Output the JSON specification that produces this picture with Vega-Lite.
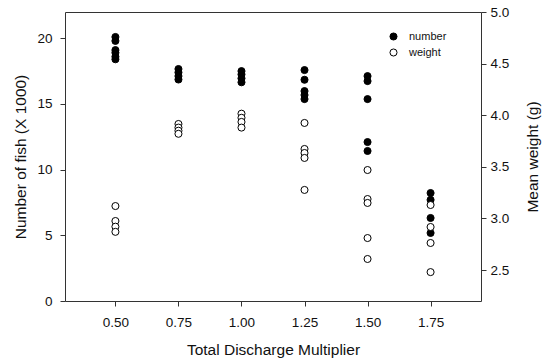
{
  "$schema": "https://vega.github.io/schema/vega-lite/v6.json",
  "width": 416,
  "height": 289,
  "autosize": {"type": "none"},
  "padding": {"left": 65, "top": 12, "right": 68, "bottom": 61},
  "background": "white",
  "config": {
    "font": "Liberation Sans",
    "view": {"stroke": "#333", "strokeWidth": 1},
    "axis": {
      "grid": false,
      "domain": false,
      "tickColor": "#333",
      "tickSize": 5,
      "labelFontSize": 13.5,
      "labelColor": "#111",
      "titleFontSize": 15.5,
      "titleFontWeight": "normal",
      "titleColor": "#111"
    }
  },
  "data": {
    "values": [
      {"x": 0.5, "series": "number", "value": 20.1},
      {"x": 0.5, "series": "number", "value": 19.8},
      {"x": 0.5, "series": "number", "value": 19.1},
      {"x": 0.5, "series": "number", "value": 18.9},
      {"x": 0.5, "series": "number", "value": 18.6},
      {"x": 0.5, "series": "number", "value": 18.4},
      {"x": 0.75, "series": "number", "value": 17.66},
      {"x": 0.75, "series": "number", "value": 17.4},
      {"x": 0.75, "series": "number", "value": 17.12},
      {"x": 0.75, "series": "number", "value": 16.86},
      {"x": 1.0, "series": "number", "value": 17.5},
      {"x": 1.0, "series": "number", "value": 17.25},
      {"x": 1.0, "series": "number", "value": 16.95},
      {"x": 1.0, "series": "number", "value": 16.65},
      {"x": 1.25, "series": "number", "value": 17.58},
      {"x": 1.25, "series": "number", "value": 16.84},
      {"x": 1.25, "series": "number", "value": 15.98},
      {"x": 1.25, "series": "number", "value": 15.68},
      {"x": 1.25, "series": "number", "value": 15.37},
      {"x": 1.5, "series": "number", "value": 17.12},
      {"x": 1.5, "series": "number", "value": 16.74},
      {"x": 1.5, "series": "number", "value": 15.37},
      {"x": 1.5, "series": "number", "value": 12.1},
      {"x": 1.5, "series": "number", "value": 11.42},
      {"x": 1.75, "series": "number", "value": 8.22},
      {"x": 1.75, "series": "number", "value": 7.7},
      {"x": 1.75, "series": "number", "value": 6.32},
      {"x": 1.75, "series": "number", "value": 5.18},
      {"x": 0.5, "series": "weight", "value": 3.12},
      {"x": 0.5, "series": "weight", "value": 2.975},
      {"x": 0.5, "series": "weight", "value": 2.92},
      {"x": 0.5, "series": "weight", "value": 2.87},
      {"x": 0.75, "series": "weight", "value": 3.915},
      {"x": 0.75, "series": "weight", "value": 3.88},
      {"x": 0.75, "series": "weight", "value": 3.85},
      {"x": 0.75, "series": "weight", "value": 3.82},
      {"x": 1.0, "series": "weight", "value": 4.015},
      {"x": 1.0, "series": "weight", "value": 3.975},
      {"x": 1.0, "series": "weight", "value": 3.935},
      {"x": 1.0, "series": "weight", "value": 3.88},
      {"x": 1.25, "series": "weight", "value": 3.925},
      {"x": 1.25, "series": "weight", "value": 3.673},
      {"x": 1.25, "series": "weight", "value": 3.634},
      {"x": 1.25, "series": "weight", "value": 3.586},
      {"x": 1.25, "series": "weight", "value": 3.276},
      {"x": 1.5, "series": "weight", "value": 3.469},
      {"x": 1.5, "series": "weight", "value": 3.188},
      {"x": 1.5, "series": "weight", "value": 3.15},
      {"x": 1.5, "series": "weight", "value": 2.81},
      {"x": 1.5, "series": "weight", "value": 2.607},
      {"x": 1.75, "series": "weight", "value": 3.13},
      {"x": 1.75, "series": "weight", "value": 2.917},
      {"x": 1.75, "series": "weight", "value": 2.762},
      {"x": 1.75, "series": "weight", "value": 2.48}
    ]
  },
  "encoding": {
    "x": {
      "field": "x",
      "type": "quantitative",
      "scale": {"domain": [0.3, 1.95], "nice": false, "zero": false},
      "axis": {
        "values": [0.5, 0.75, 1.0, 1.25, 1.5, 1.75],
        "format": ".2f",
        "labelPadding": 9,
        "title": "Total Discharge Multiplier",
        "titlePadding": 14
      }
    },
    "fill": {
      "field": "series",
      "type": "nominal",
      "scale": {"domain": ["number", "weight"], "range": ["black", "white"]},
      "legend": {
        "title": null,
        "orient": "none",
        "legendX": 323,
        "legendY": 19,
        "symbolType": "circle",
        "symbolSize": 50,
        "symbolStrokeColor": "black",
        "symbolStrokeWidth": 1,
        "labelFontSize": 11,
        "labelColor": "#111",
        "labelOffset": 10,
        "rowPadding": 3
      }
    }
  },
  "layer": [
    {
      "transform": [{"filter": "datum.series === 'number'"}],
      "mark": {"type": "point", "shape": "circle", "filled": true, "size": 50, "stroke": "black", "strokeWidth": 1, "opacity": 1},
      "encoding": {
        "y": {
          "field": "value",
          "type": "quantitative",
          "scale": {"domain": [0, 22], "nice": false},
          "axis": {
            "orient": "left",
            "values": [0, 5, 10, 15, 20],
            "labelPadding": 8,
            "title": "Number of fish (X 1000)",
            "titlePadding": 8
          }
        }
      }
    },
    {
      "transform": [{"filter": "datum.series === 'weight'"}],
      "mark": {"type": "point", "shape": "circle", "filled": true, "size": 50, "stroke": "black", "strokeWidth": 1, "opacity": 1},
      "encoding": {
        "y": {
          "field": "value",
          "type": "quantitative",
          "scale": {"domain": [2.2, 5.0], "nice": false, "zero": false},
          "axis": {
            "orient": "right",
            "values": [2.5, 3.0, 3.5, 4.0, 4.5, 5.0],
            "format": ".1f",
            "labelPadding": 4,
            "title": "Mean weight (g)",
            "titleAngle": 270,
            "titleBaseline": "top",
            "titlePadding": 17
          }
        }
      }
    }
  ],
  "resolve": {"scale": {"y": "independent"}}
}
